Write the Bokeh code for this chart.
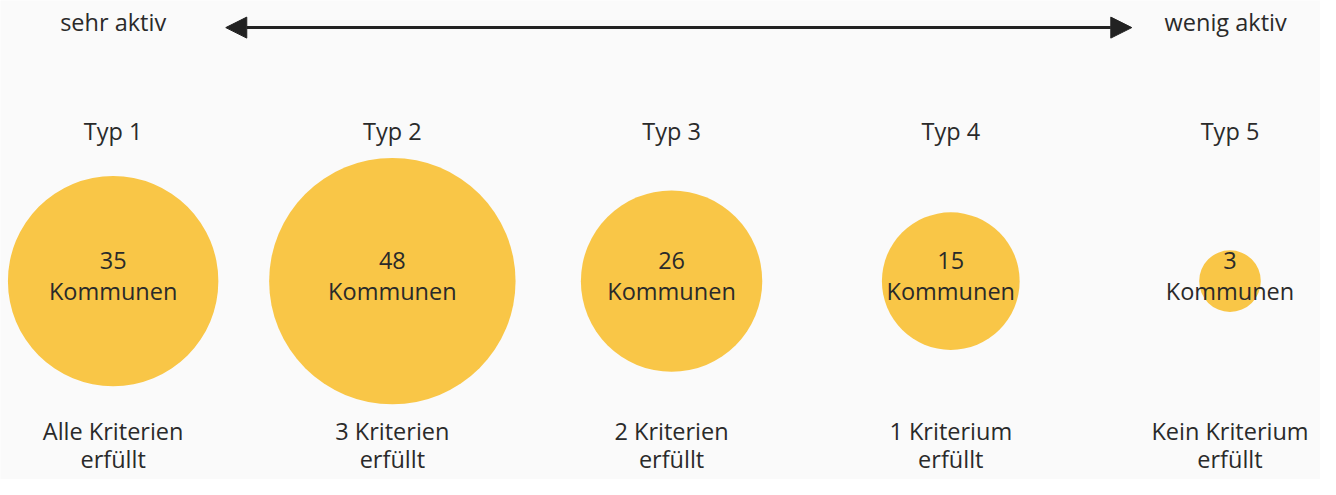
from bokeh.plotting import figure
from bokeh.models import Range1d, ColumnDataSource, Arrow, NormalHead, Label
from bokeh.core.properties import value
from bokeh.embed import file_html
from bokeh.resources import INLINE
import numpy as np

types = ["Typ 1", "Typ 2", "Typ 3", "Typ 4", "Typ 5"]
counts = [35, 48, 26, 15, 3]
count_labels = ["35", "48", "26", "15", "3"]
crit_line1 = ["Alle Kriterien", "3 Kriterien", "2 Kriterien", "1 Kriterium", "Kein Kriterium"]
crit_line2 = ["erfüllt", "erfüllt", "erfüllt", "erfüllt", "erfüllt"]
left_label = "sehr aktiv"
right_label = "wenig aktiv"

W, H = 1320, 479
p = figure(width=W, height=H, output_backend="svg", toolbar_location=None,
           x_range=Range1d(0, 1336), y_range=Range1d(495, 0),
           min_border=0)
p.axis.visible = False
p.grid.visible = False
p.outline_line_color = None
p.background_fill_color = "#fafafa"
p.border_fill_color = "#fafafa"

xs = [114 + i * 282.6 for i in range(len(types))]
radii = [18.0 * np.sqrt(c) for c in counts]
cy = 290
FONT = value("Open Sans")
TC = "#2a2a2a"
FS = "23.5px"

src = ColumnDataSource(dict(x=xs, r=radii, t=types, n=count_labels,
                            c1=crit_line1, c2=crit_line2))
p.circle(x="x", y=cy, radius="r", source=src, fill_color="#f9c647",
         line_color=None)

common = dict(source=src, text_font=FONT, text_font_size=FS, text_color=TC,
              text_align="center", text_baseline="middle")
p.text(x="x", y=135, text="t", **common)
p.text(x="x", y=269, text="n", **common)
p.text(x="x", y=300, text=value("Kommunen"), **common)
p.text(x="x", y=445, text="c1", **common)
p.text(x="x", y=474, text="c2", **common)

p.add_layout(Arrow(x_start=228, y_start=28, x_end=1145, y_end=28,
                   line_color="#222222", line_width=3,
                   start=NormalHead(size=21, fill_color="#222222", line_color="#222222"),
                   end=NormalHead(size=21, fill_color="#222222", line_color="#222222")))
p.add_layout(Label(x=114, y=22, text=left_label, text_font="Open Sans", text_font_size=FS,
                   text_color=TC, text_align="center", text_baseline="middle"))
p.add_layout(Label(x=1240, y=22, text=right_label, text_font="Open Sans", text_font_size=FS,
                   text_color=TC, text_align="center", text_baseline="middle"))

open("out.html", "w").write(file_html(p, INLINE))
